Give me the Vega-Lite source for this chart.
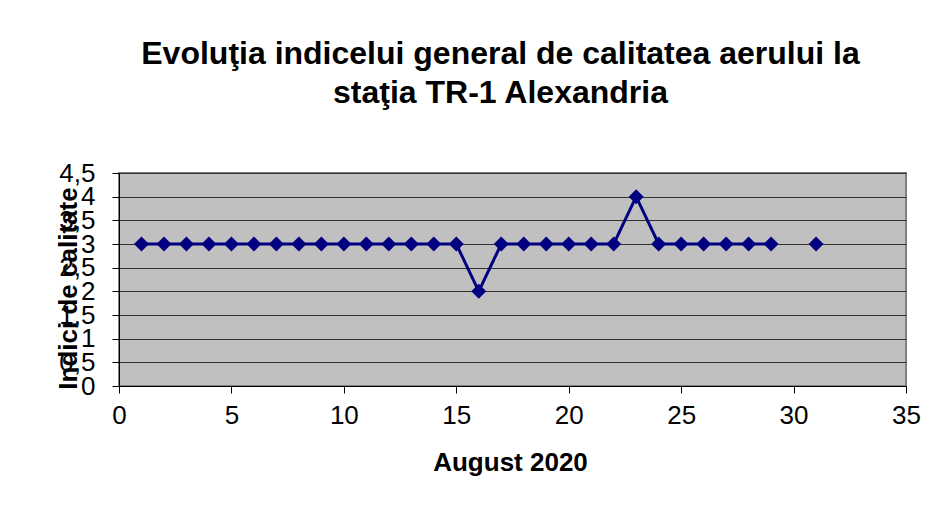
{
  "$schema": "https://vega.github.io/schema/vega-lite/v6.json",
  "width": 787,
  "height": 213,
  "autosize": {"type": "none"},
  "padding": {"left": 119, "top": 173, "right": 30, "bottom": 124},
  "background": "white",
  "title": {
    "text": ["Evoluţia indicelui general de calitatea aerului la", "staţia TR-1 Alexandria"],
    "font": "Liberation Sans",
    "fontSize": 32,
    "fontWeight": "bold",
    "lineHeight": 39,
    "anchor": "middle",
    "dx": -12,
    "offset": 50,
    "color": "#000000"
  },
  "config": {
    "view": {"fill": "#C0C0C0", "stroke": "#808080", "strokeWidth": 2},
    "axis": {
      "labelFont": "Liberation Sans",
      "titleFont": "Liberation Sans",
      "labelColor": "#000000",
      "titleColor": "#000000",
      "domainColor": "#000000",
      "tickColor": "#000000",
      "labelFontSize": 26,
      "titleFontSize": 26,
      "titleFontWeight": "bold",
      "tickSize": 7,
      "labelOverlap": false
    }
  },
  "data": {
    "values": [
      {"day": 1, "index": 3}, {"day": 2, "index": 3}, {"day": 3, "index": 3},
      {"day": 4, "index": 3}, {"day": 5, "index": 3}, {"day": 6, "index": 3},
      {"day": 7, "index": 3}, {"day": 8, "index": 3}, {"day": 9, "index": 3},
      {"day": 10, "index": 3}, {"day": 11, "index": 3}, {"day": 12, "index": 3},
      {"day": 13, "index": 3}, {"day": 14, "index": 3}, {"day": 15, "index": 3},
      {"day": 16, "index": 2}, {"day": 17, "index": 3}, {"day": 18, "index": 3},
      {"day": 19, "index": 3}, {"day": 20, "index": 3}, {"day": 21, "index": 3},
      {"day": 22, "index": 3}, {"day": 23, "index": 4}, {"day": 24, "index": 3},
      {"day": 25, "index": 3}, {"day": 26, "index": 3}, {"day": 27, "index": 3},
      {"day": 28, "index": 3}, {"day": 29, "index": 3}, {"day": 30, "index": null},
      {"day": 31, "index": 3}
    ]
  },
  "encoding": {
    "x": {
      "field": "day",
      "type": "quantitative",
      "scale": {"domain": [0, 35], "nice": false, "zero": false},
      "axis": {
        "title": "August 2020",
        "values": [0, 5, 10, 15, 20, 25, 30, 35],
        "grid": false,
        "labelPadding": 9,
        "labelFlush": false,
        "titleX": 391,
        "titleY": 84,
        "titleBaseline": "alphabetic",
        "titleAlign": "center"
      }
    },
    "y": {
      "field": "index",
      "type": "quantitative",
      "scale": {"domain": [0, 4.5], "nice": false},
      "axis": {
        "title": "Indici de calitate",
        "values": [0, 0.5, 1, 1.5, 2, 2.5, 3, 3.5, 4, 4.5],
        "labelExpr": "replace(toString(datum.value), '.', ',')",
        "labelPadding": 17,
        "labelFlush": false,
        "grid": true,
        "gridColor": "#303030",
        "gridWidth": 1,
        "titleAngle": -90,
        "titleX": -43,
        "titleY": 115,
        "titleAlign": "center",
        "titleBaseline": "alphabetic"
      }
    }
  },
  "layer": [
    {
      "mark": {"type": "line", "color": "#000080", "strokeWidth": 3, "invalid": "break-paths-show-domains"}
    },
    {
      "mark": {"type": "point", "shape": "diamond", "filled": true, "color": "#000080", "opacity": 1, "size": 225}
    }
  ]
}
